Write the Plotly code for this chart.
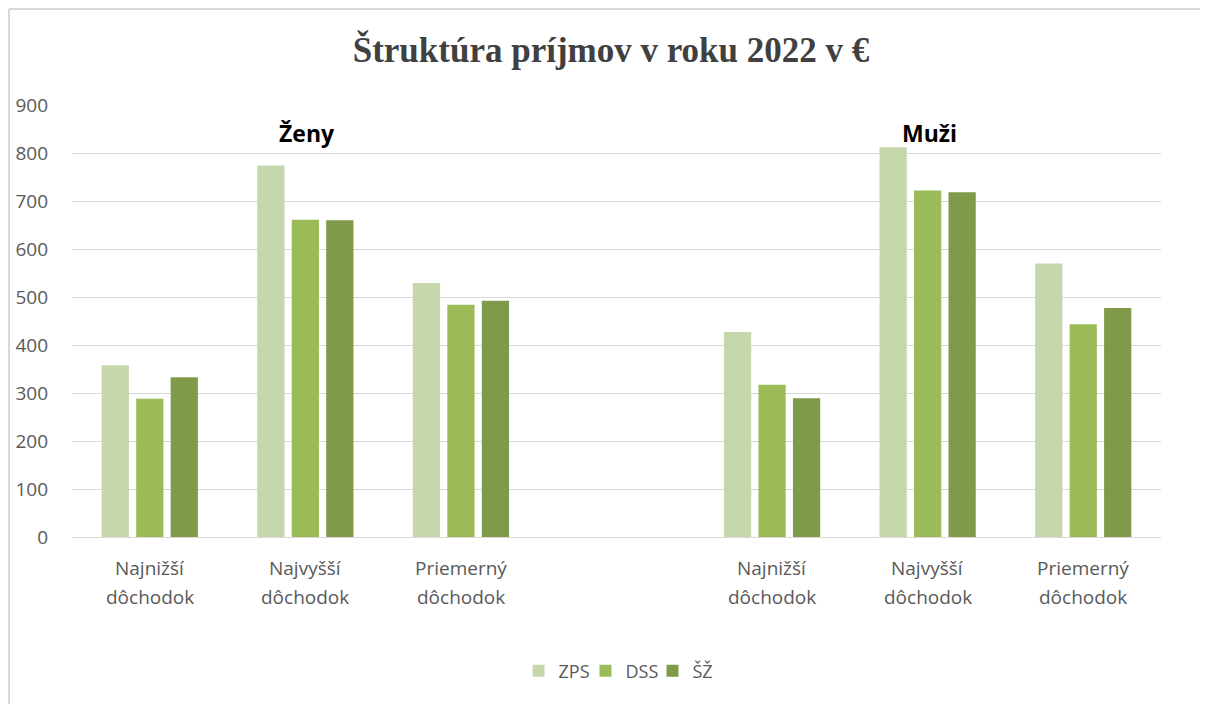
import plotly.graph_objects as go

# ---- data ----
categories = ["Najnižší dôchodok", "Najvyšší dôchodok", "Priemerný dôchodok"]
groups = ["Ženy", "Muži"]
series_names = ["ZPS", "DSS", "ŠŽ"]
series_colors = ["#C6D7AB", "#9BBB59", "#7F9B49"]

zps_zeny = [358, 774, 529]
zps_muzi = [427, 812, 570]
dss_zeny = [288, 661, 484]
dss_muzi = [317, 722, 443]
sz_zeny = [333, 660, 492]
sz_muzi = [289, 718, 477]

title_text = "Štruktúra príjmov v roku 2022 v €"

# ---- build ----
keys = [f"{g}|{c}" for g in groups for c in categories]
spacer = " "
category_order = keys[:3] + [spacer] + keys[3:]

series_values = [zps_zeny + zps_muzi, dss_zeny + dss_muzi, sz_zeny + sz_muzi]

fig = go.Figure()
for name, color, vals in zip(series_names, series_colors, series_values):
    fig.add_trace(go.Bar(name=name, x=keys, y=vals, marker_color=color,
                         marker_line_width=0))

label_font = dict(family="Open Sans, Noto Sans, sans-serif", size=19, color="#595959")
legend_font = dict(family="Open Sans, Noto Sans, sans-serif", size=18, color="#595959")

# page is drawn with an 8px body margin
OFF = 8
W, H = 1208 - OFF, 704 - OFF
L, R, T, B = 72 - OFF, 47, 105 - OFF, 167
pw, ph = W - L - R, H - T - B

annotations = []
for key in keys:
    cat = key.split("|")[1]
    first, second = cat.split(" ", 1)
    for txt, shift in ((first, -31), (second, -60)):
        annotations.append(dict(x=key, xref="x", y=0, yref="paper", text=txt,
                                showarrow=False, yanchor="middle", yshift=shift,
                                font=label_font))
for g, key in zip(groups, [keys[1], keys[4]]):
    annotations.append(dict(x=key, xref="x", y=(537 - 133) / ph, yref="paper", text=g,
                            showarrow=False, yanchor="middle", xshift=2,
                            font=dict(family="Open Sans, Noto Sans, sans-serif",
                                      size=23, color="#000000", weight="bold")))

border = dict(color="#D9D9D9", width=2)
fig.update_layout(
    width=W, height=H,
    margin=dict(l=L, r=R, t=T, b=B, autoexpand=False),
    paper_bgcolor="white", plot_bgcolor="white",
    title=dict(text=title_text, x=(611 - OFF) / W, xref="container", xanchor="center",
               y=1 - (50 - OFF) / H, yref="container", yanchor="middle",
               font=dict(family="Liberation Serif, Times New Roman, serif",
                         size=35, color="#404040", weight="bold")),
    barmode="group", bargap=0.335, bargroupgap=0.21,
    showlegend=True,
    legend=dict(orientation="h", x=(619 - 72) / pw, xanchor="center",
                y=(537 - 671) / ph, yanchor="middle",
                font=legend_font, itemwidth=30, traceorder="normal",
                entrywidth=22, entrywidthmode="pixels"),
    xaxis=dict(type="category", categoryorder="array", categoryarray=category_order,
               showticklabels=False, showgrid=False, showline=True, automargin=False,
               linecolor="#D9D9D9", linewidth=1, ticks="", zeroline=False),
    yaxis=dict(range=[0, 900], dtick=100, tick0=0, showgrid=True, automargin=False,
               gridcolor="#D9D9D9", gridwidth=1, zeroline=False, showline=False,
               ticks="", tickfont=label_font, ticklabelstandoff=23),
    annotations=annotations,
    shapes=[
        dict(type="line", xref="paper", yref="paper",
             x0=(9 - 72) / pw, x1=(1240 - 72) / pw,
             y0=(537 - 9) / ph, y1=(537 - 9) / ph, line=border, layer="below"),
        dict(type="line", xref="paper", yref="paper",
             x0=(9 - 72) / pw, x1=(9 - 72) / pw,
             y0=(537 - 9) / ph, y1=(537 - 740) / ph, line=border, layer="below"),
    ],
)

fig.write_html("out.html")
